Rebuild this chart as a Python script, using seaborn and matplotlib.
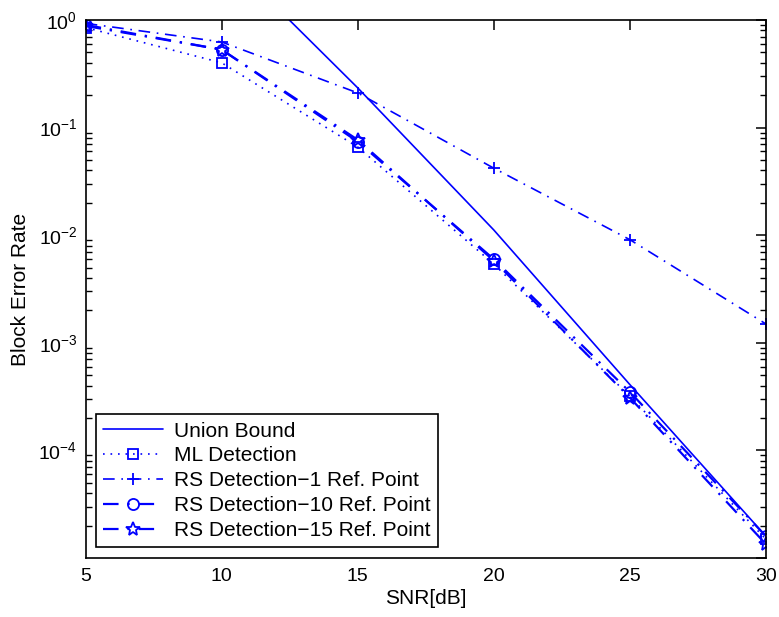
import matplotlib
matplotlib.use("Agg")
import matplotlib.pyplot as plt
import seaborn as sns
import numpy as np
from matplotlib.ticker import LogLocator, NullFormatter, FixedLocator, FixedFormatter

snr = [5, 10, 15, 20, 25, 30]
union_bound = [30.0, 4.2, 0.234, 0.0112, 4.1e-4, 1.6e-5]
ml_detection = [0.85, 0.40, 0.066, 0.0054, 3.2e-4, 1.5e-5]
rs_1 = [0.93, 0.625, 0.21, 0.042, 0.0091, 0.0015]
rs_10 = [0.90, 0.53, 0.074, 0.0060, 3.5e-4, 1.6e-5]
rs_15 = [0.88, 0.53, 0.077, 0.0058, 3.1e-4, 1.35e-5]

labels = ["Union Bound", "ML Detection", "RS Detection\u22121 Ref. Point",
          "RS Detection\u221210 Ref. Point", "RS Detection\u221215 Ref. Point"]

sns.set_theme(style="white")
plt.rcParams['font.family'] = ['Liberation Sans', 'DejaVu Sans']
plt.rcParams['mathtext.fontset'] = 'custom'
plt.rcParams['mathtext.rm'] = 'Liberation Sans'
plt.rcParams['mathtext.it'] = 'Liberation Sans:italic'
plt.rcParams['mathtext.bf'] = 'Liberation Sans:bold'
plt.rcParams['text.color'] = 'black'
plt.rcParams['axes.labelcolor'] = 'black'
plt.rcParams['xtick.color'] = 'black'
plt.rcParams['ytick.color'] = 'black'

fig = plt.figure(figsize=(7.79, 6.17), dpi=100)
ax = fig.add_axes([0.110, 0.0956, 0.873, 0.872])

blue = (0, 0, 1)
dashdot = (0, (7, 4, 1, 4))
series = [
    (union_bound, '-', None, 1.2),
    (ml_detection, (0, (1, 3.5)), 's', 1.2),
    (rs_1, dashdot, '+', 1.2),
    (rs_10, dashdot, 'o', 1.6),
    (rs_15, dashdot, '*', 1.6),
]
for (vals, ls, mk, lw), lab in zip(series, labels):
    kws = dict(linestyle=ls, linewidth=lw)
    if mk is not None:
        kws.update(marker=mk, markersize={'s': 7, '+': 9, 'o': 8, '*': 10}[mk],
                   markerfacecolor='none', markeredgecolor=blue,
                   markeredgewidth=1.3)
    sns.lineplot(x=snr, y=vals, ax=ax, color=blue, label=lab, **kws)

ax.set_yscale('log')
ax.set_xlim(5, 30)
ax.set_ylim(1e-5, 1)
ax.set_xticks([5, 10, 15, 20, 25, 30])
ax.set_xticklabels(['5', '10', '15', '20', '25', '30'])
ax.yaxis.set_major_locator(FixedLocator([1e-5, 1e-4, 1e-3, 1e-2, 1e-1, 1]))
ax.yaxis.set_major_formatter(FixedFormatter(['', r'$10^{-4}$', r'$10^{-3}$', r'$10^{-2}$', r'$10^{-1}$', r'$10^{0}$']))
ax.yaxis.set_minor_locator(LogLocator(base=10, subs=np.arange(2, 10), numticks=20))
ax.yaxis.set_minor_formatter(NullFormatter())

ax.tick_params(axis='both', which='major', direction='in', length=7, width=1.1,
               top=True, right=True, labelsize=14, colors='black', pad=7)
ax.tick_params(axis='y', which='major', pad=6)
ax.tick_params(axis='y', which='minor', direction='in', length=4, width=1.0,
               left=True, right=True)
for s in ax.spines.values():
    s.set_color('black')
    s.set_linewidth(1.2)

ax.set_xlabel('SNR[dB]', fontsize=15, labelpad=3, color='black')
ax.set_ylabel('Block Error Rate', fontsize=15, labelpad=6, color='black')

leg = ax.legend(loc='lower left', bbox_to_anchor=(0.0147, 0.02), borderaxespad=0,
                fontsize=15, frameon=True, fancybox=False, edgecolor='black',
                framealpha=1, handlelength=2.9, labelspacing=0.28,
                borderpad=0.35, handletextpad=0.5, labelcolor='black')
leg.get_frame().set_linewidth(1.2)

fig.savefig('out.png', dpi=100)
